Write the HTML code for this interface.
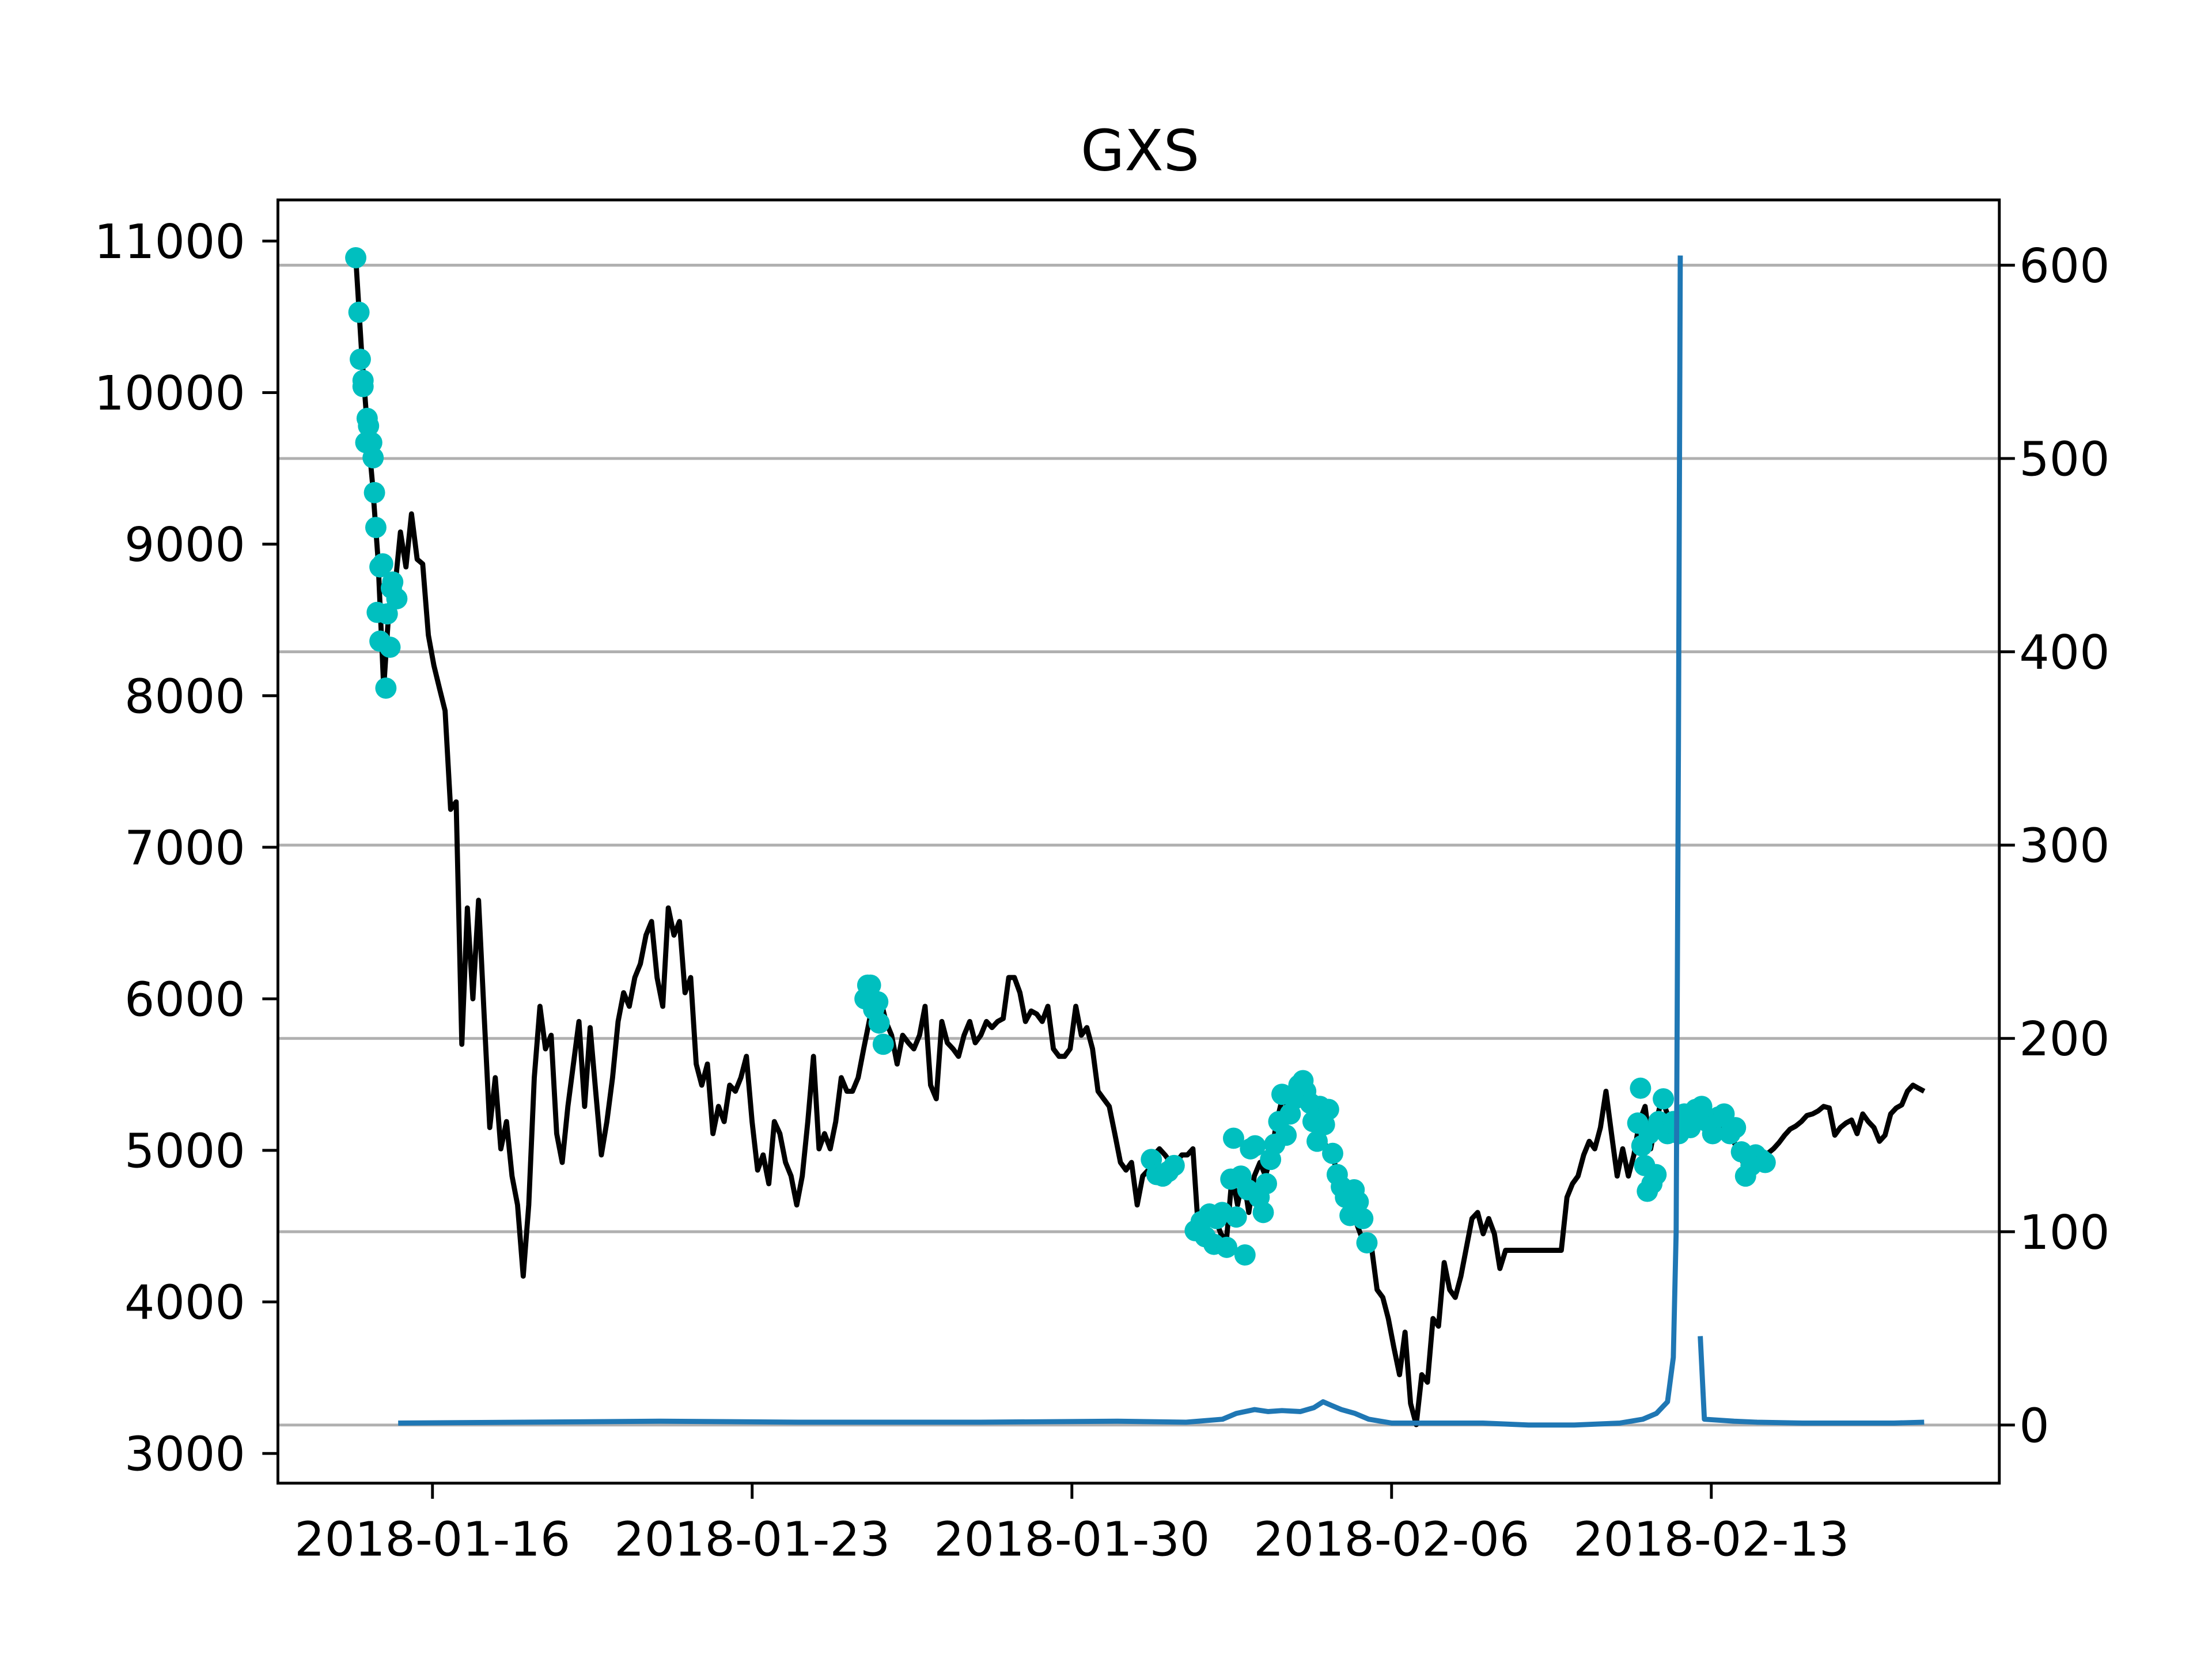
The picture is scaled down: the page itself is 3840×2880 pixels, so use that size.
<!DOCTYPE html>
<html><head><meta charset="utf-8"><style>html,body{margin:0;padding:0;background:#fff}svg{display:block}text{font-family:"DejaVu Sans","Liberation Sans",sans-serif;fill:#000}</style></head>
<body>
<svg id="chart" width="3840" height="2880" viewBox="0 0 1560 1170" xmlns="http://www.w3.org/2000/svg">
<rect x="0" y="0" width="1560" height="1170" fill="#fff"/>
<text x="804" y="120" font-size="40" text-anchor="middle">GXS</text>
<g id="grid"></g>
<g id="plot"></g>
<rect x="196" y="141" width="1214" height="905" fill="none" stroke="#000" stroke-width="2"/>
<g id="axes"></g>
</svg>
<script>
const leftTicks=[3000,4000,5000,6000,7000,8000,9000,10000,11000];
const rightTicks=[0,100,200,300,400,500,600];
const xTickDays=[0,7,14,21,28];
const xTickLabels=["2018-01-16","2018-01-23","2018-01-30","2018-02-06","2018-02-13"];
const priceStartDay=-1.68, priceEndDay=32.66;
const prices=[10890,10300,9800,9400,8900,8050,8600,8700,9080,8850,9200,8900,8870,8400,8200,8050,7900,7250,7300,5700,
6600,6000,6650,5900,
5150,5480,5010,5190,4830,4640,4170,4640,5480,5950,5670,5760,5110,4920,5290,5570,5850,5290,5810,5390,4970,5190,5480,5850,6040,5950,6140,6230,6420,6510,6140,5950,6600,6420,6510,6040,6140,5570,5430,5570,5110,5290,5190,5430,5390,5480,5620,5190,4870,4970,4780,5190,5110,4920,4830,4640,4830,5190,5620,5010,5110,5010,5190,5480,5390,5390,5480,5670,5850,6040,6000,5850,5760,5570,5760,5710,5670,5760,5950,5430,5340,5850,5710,5670,5620,5760,5850,5710,5760,5850,5810,5850,5870,6140,6140,6040,5850,5920,5900,5850,5950,5670,5620,5620,5670,5950,5760,5810,5670,5390,5340,5290,5110,4920,4870,4920,4640,4830,4870,4970,5010,4970,4920,4920,4970,4970,5010,4450,4550,4590,4550,4450,4400,4830,4640,4830,4590,4830,4920,4830,4970,5190,5340,5290,5390,5430,5390,5290,5190,5110,5010,4970,4830,4730,4640,4550,4450,4360,4360,4080,4030,3890,3700,3520,3800,3330,3190,3520,3470,3890,3840,4260,4080,4030,4170,4360,4550,4590,4450,4550,4450,4220,4340,
4340,4340,4340,4340,4340,4340,4340,4340,4340,4340,
4690,4780,4830,4970,5060,5010,5150,5390,5110,4830,5010,4830,4970,5190,5290,5010,5190,5340,5240,
5150,5110,5150,5110,5190,5240,5200,5150,5190,5150,5100,5050,4980,4870,4920,4960,4970,4980,5010,5050,5100,5140,5160,5190,5230,5240,5260,5290,5280,5100,5150,5180,5200,5110,5240,5190,5150,5060,5100,5240,5280,5300,5390,5430,5410,5390];
const dotDays=[-1.68,-1.61,-1.58,-1.52,-1.52,-1.43,-1.40,-1.46,-1.33,-1.30,-1.27,-1.24,-1.15,-1.09,-1.21,-1.15,-0.99,-0.93,-1.02,-0.87,-0.78,-0.90,
9.53,9.59,9.47,9.66,9.75,9.78,9.87,
15.74,15.86,15.99,16.11,16.24,
16.70,16.83,16.92,17.01,17.11,17.17,17.29,17.39,17.48,17.54,17.60,17.70,17.79,17.85,17.91,18.01,18.10,18.19,18.26,18.35,18.44,18.53,18.60,18.69,18.78,18.88,18.97,19.06,19.12,19.22,19.28,19.37,19.43,19.53,19.62,19.71,19.81,19.90,19.99,20.09,20.18,20.27,20.37,20.46,
26.45,26.39,26.48,26.54,26.60,26.70,26.79,26.64,26.85,26.95,27.04,27.17,27.29,27.41,27.54,27.66,27.79,27.91,28.03,28.16,28.28,28.41,28.53,28.66,28.75,28.87,28.97,29.09,29.18];
const dotValues=[10890,10530,10220,10080,10040,9830,9780,9670,9670,9570,9340,9110,8850,8870,8550,8360,8540,8320,8050,8750,8640,8710,
6090,6090,6000,5930,5980,5840,5700,
4940,4840,4830,4860,4900,
4470,4530,4430,4580,4380,4550,4590,4360,4810,5080,4560,4830,4310,4740,5010,5030,4690,4590,4780,4940,5040,5190,5370,5100,5240,5340,5430,5460,5390,5310,5190,5060,5290,5170,5270,4980,4840,4760,4690,4570,4740,4660,4550,4390,
5410,5180,5030,4900,4730,4780,4840,5110,5190,5340,5110,5190,5110,5240,5150,5270,5290,5190,5110,5220,5240,5110,5150,4990,4830,4900,4970,4940,4920];
const vol1Days=[-0.75,2,5,8,12,15,16.5,17.3,17.6,18.0,18.3,18.6,19.0,19.3,19.5,19.7,19.9,20.2,20.5,21,23,24,25,26,26.5,26.8,27.04,27.17,27.23,27.28,27.32];
const vol1Values=[1,1.5,2,1.5,1.5,2,1.5,3,6,8,7,7.5,7,9,12,10,8,6,3,1,1,0,0,1,3,6,12,35,100,350,605];
const vol2Days=[27.76,27.85,28.5,29,30,32,32.66];
const vol2Values=[46,3,2,1.5,1,1,1.5];

const NS="http://www.w3.org/2000/svg";
const xS=d=>305+d*32.21;
const yL=v=>170+(11000-v)*0.10688;
const yR=v=>1005-v*1.3633;
function mk(tag,attrs,parent){const e=document.createElementNS(NS,tag);for(const k in attrs)e.setAttribute(k,attrs[k]);parent.appendChild(e);return e;}
const grid=document.getElementById('grid'),plot=document.getElementById('plot'),axes=document.getElementById('axes');
rightTicks.forEach(v=>{
 const l=mk('line',{x1:196,x2:1410,y1:yR(v),y2:yR(v),stroke:'#b0b0b0','stroke-width':2},grid);
 
 
 const t=mk('line',{x1:1410,x2:1421,y1:yR(v),y2:yR(v),stroke:'#000','stroke-width':2},axes);
 
 
 const tx=mk('text',{x:1424,y:yR(v)+12,'font-size':33.5},axes);tx.textContent=v;
 
 
});
leftTicks.forEach(v=>{
 const t=mk('line',{x1:185,x2:196,y1:yL(v),y2:yL(v),stroke:'#000','stroke-width':2},axes);
 
 
 const tx=mk('text',{x:173,y:yL(v)+12,'font-size':33.5,'text-anchor':'end'},axes);tx.textContent=v;
 
 
});
xTickDays.forEach((d,i)=>{
 const t=mk('line',{x1:xS(d),x2:xS(d),y1:1046,y2:1057,stroke:'#000','stroke-width':2},axes);
 
 
 const tx=mk('text',{x:xS(d),y:1097,'font-size':33.5,'text-anchor':'middle'},axes);tx.textContent=xTickLabels[i];
 
 
});
const n=prices.length,step=(priceEndDay-priceStartDay)/(n-1);
const pp=prices.map((v,i)=>xS(priceStartDay+i*step).toFixed(1)+','+yL(v).toFixed(1)).join(' ');
const pl=mk('polyline',{points:pp,fill:'none',stroke:'#000','stroke-width':3.6,'stroke-linejoin':'round'},plot);


dotDays.forEach((d,i)=>{
 const c=mk('circle',{cx:xS(d),cy:yL(dotValues[i]),r:7.5,fill:'#00bfbf'},plot);
 
 
});
[[vol1Days,vol1Values],[vol2Days,vol2Values]].forEach((s,k)=>{
 const p=s[0].map((d,i)=>xS(d).toFixed(1)+','+yR(s[1][i]).toFixed(1)).join(' ');
 const l=mk('polyline',{points:p,fill:'none',stroke:'#1f77b4','stroke-width':3.6,'stroke-linejoin':'round'},plot);
 
 
});
</script>
</body></html>
